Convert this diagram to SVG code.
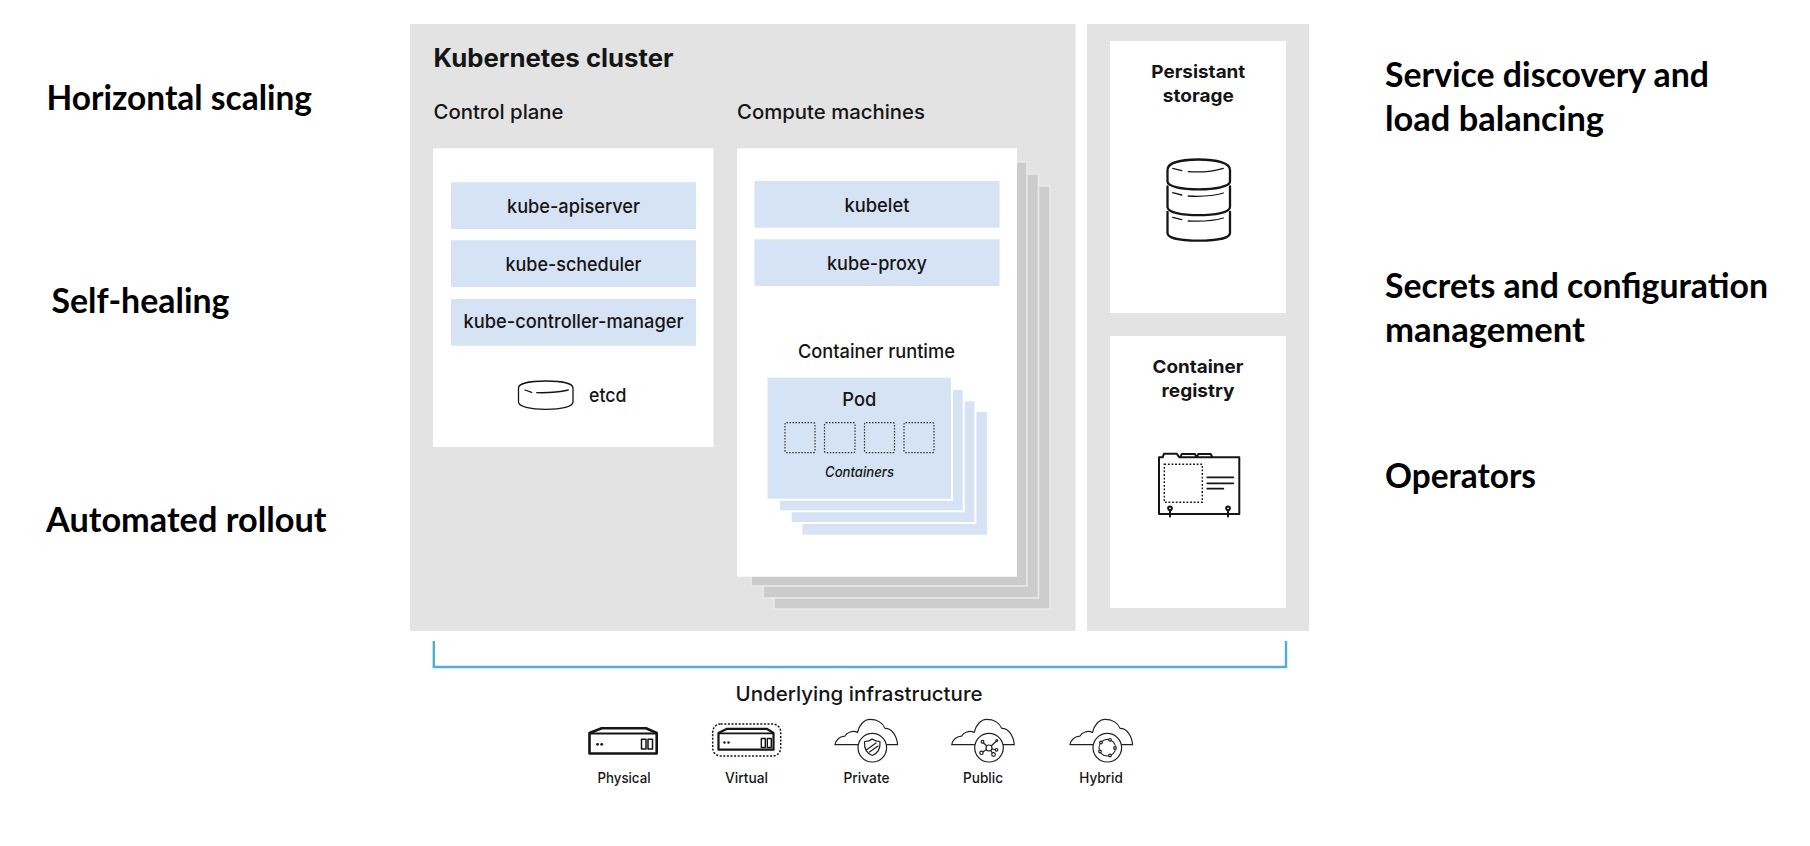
<svg xmlns="http://www.w3.org/2000/svg" xmlns:xlink="http://www.w3.org/1999/xlink" width="1810" height="846" viewBox="0 0 1810 846">
<style>
text{font-family:"Inter","Noto Sans","Liberation Sans",sans-serif;fill:#151515;font-size:19px;font-weight:500}
.call{font-family:"Lato","Open Sans","Liberation Sans",sans-serif;font-weight:700;font-size:34px;fill:#000}
.m{text-anchor:middle}
.b{font-weight:700}
.small{font-size:14.5px}
.panel{fill:#e3e3e3}
.white{fill:#fff}
.blue{fill:#d6e3f4}
.stack{fill:#cccccc;stroke:#ececec;stroke-width:1.5}
.pods{fill:#d6e3f4;stroke:#fff;stroke-width:2}
.dot{fill:none;stroke:#333;stroke-width:1.2;stroke-dasharray:1.5 1.5}
.ic{fill:none;stroke:#151515;stroke-width:2.2;stroke-linejoin:round;stroke-linecap:round}
.thin{fill:none;stroke:#151515;stroke-width:1.3;stroke-linejoin:round;stroke-linecap:round}
.fw{fill:#fff;stroke:#151515;stroke-width:2.3;stroke-linejoin:round;stroke-linecap:round}
.cl{fill:#fff;stroke:#222;stroke-width:1.2;stroke-linejoin:round;stroke-linecap:round}
</style>
<defs>
<g id="cloud">
<path class="cl" d="M-14,-3H-37.3C-36.5,-8 -32,-11.5 -27.5,-11.5C-25.5,-15.5 -19.5,-17.5 -14.7,-15.3C-13,-23 -8,-28.3 -2.3,-28.3C4.5,-28.3 10.5,-25 12.7,-19.3C19.5,-19.5 24.5,-12 25.3,-3H14"/>
<circle class="cl" cx="0" cy="0" r="14.3"/>
</g>
</defs>
<rect width="1810" height="846" fill="#fff"/>

<g id="callouts-left">
<text class="call" x="46.5" y="109.5" textLength="265.5" lengthAdjust="spacingAndGlyphs">Horizontal scaling</text>
<text class="call" x="51.5" y="312.7" textLength="178" lengthAdjust="spacingAndGlyphs">Self-healing</text>
<text class="call" x="46" y="532" textLength="280.5" lengthAdjust="spacingAndGlyphs">Automated rollout</text>
</g>
<g id="callouts-right">
<text class="call" x="1385" y="87" textLength="324" lengthAdjust="spacingAndGlyphs">Service discovery and</text>
<text class="call" x="1385" y="131" textLength="219" lengthAdjust="spacingAndGlyphs">load balancing</text>
<text class="call" x="1385" y="298" textLength="383" lengthAdjust="spacingAndGlyphs">Secrets and configuration</text>
<text class="call" x="1385" y="342" textLength="200" lengthAdjust="spacingAndGlyphs">management</text>
<text class="call" x="1385" y="487.5" textLength="151" lengthAdjust="spacingAndGlyphs">Operators</text>
</g>

<g id="kubernetes-cluster">
<rect class="panel" x="410" y="24" width="665.5" height="607"/>
<text class="b" x="433.5" y="67" style="font-size:25px" textLength="240" lengthAdjust="spacingAndGlyphs">Kubernetes cluster</text>
</g>

<g id="control-plane">
<text x="433.5" y="119" style="font-size:20px" textLength="130" lengthAdjust="spacingAndGlyphs">Control plane</text>
<rect class="white" x="433" y="148.3" width="280.5" height="298.7"/>
<rect class="blue" x="451" y="182.3" width="245" height="46.7"/>
<text class="m" x="573.5" y="212.5" textLength="133" lengthAdjust="spacingAndGlyphs">kube-apiserver</text>
<rect class="blue" x="451" y="240.3" width="245" height="46.7"/>
<text class="m" x="573.5" y="271" textLength="136" lengthAdjust="spacingAndGlyphs">kube-scheduler</text>
<rect class="blue" x="451" y="299" width="245" height="46.7"/>
<text class="m" x="573.5" y="328" textLength="220" lengthAdjust="spacingAndGlyphs">kube-controller-manager</text>
</g>
<g id="etcd">
<path class="thin" d="M518.5,388C518.5,383.5 530,381 546,381C562,381 573,383.5 573,388V402C573,406.5 562,409.3 546,409.3C530,409.3 518.5,406.5 518.5,402Z"/>
<path class="thin" d="M525,390L531.7,392.3M536.7,392.7C548,393 560,392 568.3,390"/>
<text x="589" y="401.5" textLength="37.5" lengthAdjust="spacingAndGlyphs">etcd</text>
</g>

<g id="compute-machines">
<text x="737" y="119" style="font-size:20px" textLength="188" lengthAdjust="spacingAndGlyphs">Compute machines</text>
<rect class="stack" x="774" y="186" width="276" height="423"/>
<rect class="stack" x="763" y="174" width="275.5" height="424"/>
<rect class="stack" x="751" y="162" width="276" height="424"/>
<rect class="white" x="737" y="148.3" width="280" height="428.4"/>
<rect class="blue" x="754.5" y="181" width="245" height="46.7"/>
<text class="m" x="877" y="211.5" textLength="65" lengthAdjust="spacingAndGlyphs">kubelet</text>
<rect class="blue" x="754.5" y="239.3" width="245" height="46.7"/>
<text class="m" x="877" y="270" textLength="100" lengthAdjust="spacingAndGlyphs">kube-proxy</text>
<text class="m" x="876.4" y="357.5" textLength="157" lengthAdjust="spacingAndGlyphs">Container runtime</text>
</g>

<g id="pod">
<rect class="pods" x="802.3" y="412" width="184.7" height="122.7" style="stroke:none"/>
<rect class="pods" x="790.7" y="400.3" width="184.7" height="122.7"/>
<rect class="pods" x="779" y="389" width="184.7" height="122.3"/>
<rect class="pods" x="766.5" y="376.7" width="185.5" height="123"/>
<text class="m" x="859.3" y="405.5" textLength="34" lengthAdjust="spacingAndGlyphs">Pod</text>
<rect class="dot" x="785" y="422.7" width="30" height="30" rx="1.5"/>
<rect class="dot" x="824.5" y="422.7" width="30.5" height="30" rx="1.5"/>
<rect class="dot" x="864.5" y="422.7" width="30" height="30" rx="1.5"/>
<rect class="dot" x="904" y="422.7" width="30" height="30" rx="1.5"/>
<text class="m small" x="859.5" y="477" font-style="italic" textLength="69" lengthAdjust="spacingAndGlyphs">Containers</text>
</g>

<g id="side-panel">
<rect class="panel" x="1087" y="24" width="222" height="607"/>
</g>

<g id="persistant-storage">
<rect class="white" x="1110" y="41" width="176" height="272"/>
<text class="m b" x="1198.3" y="77.8" style="font-size:18px" textLength="94" lengthAdjust="spacingAndGlyphs">Persistant</text>
<text class="m b" x="1198.3" y="101.5" style="font-size:18px" textLength="71" lengthAdjust="spacingAndGlyphs">storage</text>
<path class="fw" d="M1167.5,212V233C1167.5,238.5 1182,240.7 1198.7,240.7C1215,240.7 1230,238.5 1230,233V212"/>
<path class="fw" d="M1167.5,186.5V207C1167.5,212.5 1182,215.2 1198.7,215.2C1215,215.2 1230,212.5 1230,207V186.5"/>
<path class="fw" d="M1167.5,170C1167.5,163 1180,159.5 1198.7,159.5C1217,159.5 1230,163 1230,170V181.5C1230,186.5 1215,189.3 1198.7,189.3C1182,189.3 1167.5,186.5 1167.5,181.5Z"/>
<path class="thin" d="M1172.7,168.3L1181.7,170.7M1188.3,171.7C1202,172.5 1215,171 1223.3,168.3M1172.7,192.7L1181.7,195M1188.3,196C1202,196.8 1215,195.5 1223.3,193M1172.7,217.3L1181.7,219.7M1188.3,221C1202,221.6 1215,220.5 1223.3,218"/>
</g>

<g id="container-registry">
<rect class="white" x="1110" y="336" width="176" height="272"/>
<text class="m b" x="1198" y="372.5" style="font-size:18px" textLength="91" lengthAdjust="spacingAndGlyphs">Container</text>
<text class="m b" x="1198" y="396.7" style="font-size:18px" textLength="73" lengthAdjust="spacingAndGlyphs">registry</text>
<path class="ic" style="stroke-width:2" d="M1159,514V457.3H1162.7L1164,453.7H1176.7L1179.3,457.3H1239.3V514ZM1180.7,456.5L1181.7,454H1195L1196,456.5M1197,456.5L1198.3,454H1210.7L1212,456.5"/>
<rect x="1164.3" y="464.3" width="38" height="38" fill="none" stroke="#151515" stroke-width="1.4" stroke-dasharray="1.8 1.8"/>
<path class="ic" style="stroke-width:1.8" d="M1207.3,477.3H1233.3M1207.3,483.3H1233.3M1207.3,488.7H1223.3"/>
<path class="ic" style="stroke-width:2" d="M1170,516.5V510M1170,510.5C1167.5,509.5 1167.5,506.5 1170,506.5C1172.5,506.5 1172.5,509.5 1170.5,510.5M1228,516.5V510M1228,510.5C1225.5,509.5 1225.5,506.5 1228,506.5C1230.5,506.5 1230.5,509.5 1228.5,510.5"/>
</g>

<g id="connectors">
<path d="M433.8,641V667H1286V641" fill="none" stroke="#4fafd3" stroke-width="2.4"/>
</g>

<g id="underlying-infrastructure">
<text class="m" x="859" y="700.5" style="font-size:20px" textLength="247" lengthAdjust="spacingAndGlyphs">Underlying infrastructure</text>
</g>

<g id="physical">
<path class="ic" style="stroke-width:2.6" d="M589.5,733L601.7,728.3H646L656.7,733V753.5H589.5Z"/>
<path class="thin" style="stroke-width:2" d="M590,733.5H656"/>
<circle cx="597.5" cy="744.3" r="1.4" fill="#151515"/><circle cx="601.7" cy="744.3" r="1.4" fill="#151515"/>
<path class="thin" style="stroke-width:1.5" d="M641.5,739.3h4.5v9.7h-4.5zM648,739.3h4.5v9.7H648z"/>
<text class="m small" x="624" y="783.3" textLength="53" lengthAdjust="spacingAndGlyphs">Physical</text>
</g>
<g id="virtual">
<rect x="712.7" y="724" width="68" height="32" rx="8" fill="none" stroke="#151515" stroke-width="1.5" stroke-dasharray="2 1.6"/>
<path class="ic" d="M718.5,733L727,728.8H766.7L773.5,733V749.7H718.5Z"/>
<path class="thin" style="stroke-width:1.8" d="M719,733.3H773"/>
<circle cx="724.5" cy="742.5" r="1.2" fill="#151515"/><circle cx="728.5" cy="742.5" r="1.2" fill="#151515"/>
<path class="thin" style="stroke-width:1.4" d="M761.3,738.5h4v9h-4zM767.3,738.5h4v9h-4z"/>
<text class="m small" x="746.5" y="783.3" textLength="43" lengthAdjust="spacingAndGlyphs">Virtual</text>
</g>
<g id="private">
<use xlink:href="#cloud" href="#cloud" x="872.3" y="747.7"/>
<path class="cl" d="M864.5,741.5C868,741.5 870.5,740.5 872.3,739C874,740.5 876.5,741.5 880,741.5C880.5,749 877.5,753.5 872.3,755.5C867,753.5 864,749 864.5,741.5ZM867,749.5L876,743M869.5,752L878,746"/>
<text class="m small" x="866.5" y="783.3" textLength="46" lengthAdjust="spacingAndGlyphs">Private</text>
</g>
<g id="public">
<use xlink:href="#cloud" href="#cloud" x="989" y="747.7"/>
<path class="cl" d="M989,748L996.5,741M989,748L982.5,742M989,748L982,752.5M989,748L993,754M989,748L996,750"/>
<circle class="cl" cx="989" cy="748" r="3"/><circle class="cl" cx="982.5" cy="741.8" r="1.4"/><circle class="cl" cx="981.5" cy="752.8" r="1.7"/><circle class="cl" cx="993.5" cy="754.5" r="1.8"/><circle class="cl" cx="996.5" cy="749.8" r="1.3"/><circle class="cl" cx="996.8" cy="740.5" r="1"/>
<text class="m small" x="983" y="783.3" textLength="40" lengthAdjust="spacingAndGlyphs">Public</text>
</g>
<g id="hybrid">
<use xlink:href="#cloud" href="#cloud" x="1107.3" y="747.7"/>
<circle cx="1107.3" cy="747.7" r="8.3" fill="none" stroke="#222" stroke-width="1.1"/>
<circle class="cl" cx="1110" cy="739.8" r="1.3"/><circle class="cl" cx="1115" cy="748" r="1.3"/><circle class="cl" cx="1110" cy="755.5" r="1.3"/><circle class="cl" cx="1100" cy="751.5" r="1.3"/><circle class="cl" cx="1101" cy="742.5" r="1.3"/>
<text class="m small" x="1101" y="783.3" textLength="43.5" lengthAdjust="spacingAndGlyphs">Hybrid</text>
</g>
</svg>
